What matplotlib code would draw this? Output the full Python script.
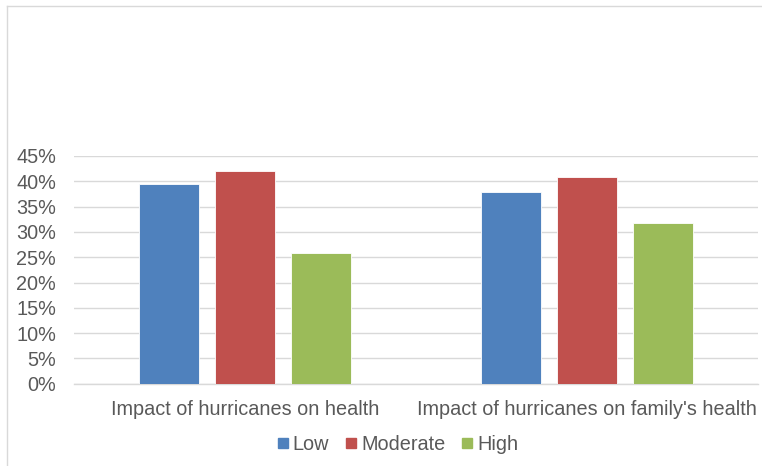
import numpy as np
import matplotlib.pyplot as plt
from matplotlib.lines import Line2D
from matplotlib.ticker import FuncFormatter, MultipleLocator

plt.rcParams["font.family"] = ["Liberation Sans", "DejaVu Sans"]

# --- data ---
categories = ["Impact of hurricanes on health", "Impact of hurricanes on family's health"]
series = ["Low", "Moderate", "High"]
low = [0.394, 0.378]
moderate = [0.420, 0.408]
high = [0.258, 0.317]

colors = ["#4f81bd", "#c0504d", "#9bbb59"]
text_gray = "#595959"
grid_gray = "#d9d9d9"

W, H = 762, 466
fig = plt.figure(figsize=(W / 100, H / 100), dpi=100)
ax = fig.add_axes([74 / W, 1 - 383.7 / H, (758 - 74) / W, (383.7 - 156) / H])

x = np.arange(len(categories))
bar_w = 0.175
step = 0.222
for i, (vals, c) in enumerate(zip([low, moderate, high], colors)):
    ax.bar(x + (i - 1) * step, vals, width=bar_w, color=c,
           edgecolor="white", linewidth=0.6, label=series[i], zorder=3)

ax.set_xlim(-0.5, 1.5)
ax.set_ylim(0, 0.45)
ax.yaxis.set_major_locator(MultipleLocator(0.05))
ax.yaxis.set_major_formatter(FuncFormatter(lambda v, _: f"{v * 100:.0f}%"))
ax.grid(axis="y", color=grid_gray, linewidth=1, zorder=0)
for s in ["top", "right", "left"]:
    ax.spines[s].set_visible(False)
ax.spines["bottom"].set_color(grid_gray)
ax.spines["bottom"].set_linewidth(1)

ax.set_xticks(x)
ax.set_xticklabels(categories)
ax.tick_params(axis="both", length=0, labelsize=14.3, labelcolor=text_gray)
ax.tick_params(axis="y", pad=13)
ax.tick_params(axis="x", pad=12)

handles = [Line2D([], [], marker="s", linestyle="none", markersize=7,
                  markerfacecolor=c, markeredgecolor=c) for c in colors]
fig.legend(handles, series, loc="center", bbox_to_anchor=(396 / W, 1 - 444 / H),
           ncol=3, frameon=False, fontsize=14.3, labelcolor=text_gray,
           handletextpad=0.05, columnspacing=0.65, handlelength=0.9)

# chart area outline (left and top edges)
fig.add_artist(Line2D([7 / W, 7 / W], [0, 1 - 6 / H], color=grid_gray, linewidth=1))
fig.add_artist(Line2D([7 / W, 1], [1 - 6 / H, 1 - 6 / H], color=grid_gray, linewidth=1))

fig.savefig("out.png", dpi=100, facecolor="white")
